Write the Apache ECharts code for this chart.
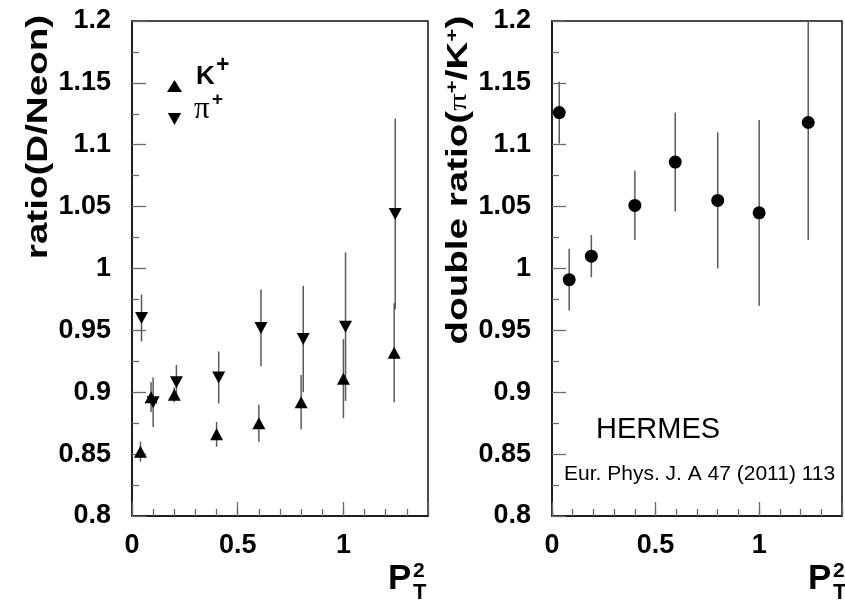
<!DOCTYPE html>
<html><head><meta charset="utf-8">
<script src="https://cdn.jsdelivr.net/npm/echarts@6/dist/echarts.min.js"></script>
<style>html,body{margin:0;padding:0;background:#fff}#c{width:845px;height:603px}</style>
</head><body><div id="c"></div>
<script>
// ---- data ----
const kaonX   = [0.04, 0.09, 0.20, 0.40, 0.60, 0.80, 1.00, 1.24];
const kaonY   = [0.852, 0.896, 0.898, 0.866, 0.875, 0.892, 0.911, 0.932];
const kaonErr = [0.008, 0.012, 0.006, 0.010, 0.015, 0.022, 0.032, 0.040];

const pionX   = [0.045, 0.10, 0.21, 0.41, 0.61, 0.81, 1.01, 1.245];
const pionY   = [0.960, 0.892, 0.908, 0.912, 0.952, 0.943, 0.953, 1.044];
const pionErr = [0.019, 0.020, 0.014, 0.021, 0.031, 0.043, 0.060, 0.077];

const dblX    = [0.035, 0.083, 0.19, 0.40, 0.595, 0.80, 1.00, 1.237];
const dblY    = [1.126, 0.991, 1.010, 1.051, 1.086, 1.055, 1.045, 1.118];
const dblErr  = [0.025, 0.025, 0.017, 0.028, 0.040, 0.055, 0.075, 0.095];

const xMin = 0, xMax = 1.4, xMajor = 0.5, xMinor = 0.1;
const yMin = 0.8, yMax = 1.2, yMajor = 0.05;

// ---- styling helpers ----
const SANS = 'Liberation Sans, Arial, Helvetica, sans-serif';
const SERIF = 'Liberation Serif, Times New Roman, serif';
const tickColor = '#6a6a6a';

function xMajorAxis(g){
  return {type:'value', gridIndex:g, position:'bottom', min:xMin, max:xMax, interval:xMajor,
    axisLine:{show:true, onZero:false, lineStyle:{color:'#111', width:1.5}},
    axisTick:{show:true, inside:true, length:14, lineStyle:{color:tickColor, width:1.3}},
    splitLine:{show:false},
    axisLabel:{fontFamily:SANS, fontWeight:'bold', fontSize:27, color:'#000', margin:16,
      formatter:v => (Math.abs(v/xMajor - Math.round(v/xMajor))<1e-6) ? String(+v.toFixed(2)) : ''}
  };
}
function xMinorAxis(g){
  return {type:'value', gridIndex:g, position:'bottom', min:xMin, max:xMax, interval:xMinor,
    axisLine:{show:false}, axisLabel:{show:false}, splitLine:{show:false},
    axisTick:{show:true, inside:true, length:7, lineStyle:{color:tickColor, width:1.3}}
  };
}
function yAxisCfg(g){
  return {type:'value', gridIndex:g, min:yMin, max:yMax, interval:yMajor,
    axisLine:{show:true, onZero:false, lineStyle:{color:'#111', width:1.5}},
    axisTick:{show:true, inside:true, length:14, lineStyle:{color:tickColor, width:1.3}},
    minorTick:{show:true, splitNumber:2, length:7, lineStyle:{color:tickColor, width:1.3}},
    splitLine:{show:false}, minorSplitLine:{show:false},
    axisLabel:{fontFamily:SANS, fontWeight:'bold', fontSize:27, color:'#000', margin:21}
  };
}
function errSeries(name, xs, ys, es, xi, yi){
  return {type:'custom', name:name+'_err', xAxisIndex:xi, yAxisIndex:yi, clip:true, silent:true, z:1,
    data: xs.map((x,i)=>[x, ys[i]-es[i], ys[i]+es[i]]),
    renderItem:(params, api)=>{
      const a = api.coord([api.value(0), api.value(1)]);
      const b = api.coord([api.value(0), api.value(2)]);
      return {type:'line', shape:{x1:a[0], y1:a[1], x2:b[0], y2:b[1]},
        style:{stroke:'#5a5a5a', lineWidth:1.5}};
    }
  };
}
function pts(xs, ys){ return xs.map((x,i)=>[x, ys[i]]); }

const option = {
  backgroundColor:'#fff',
  animation:false,
  grid:[
    {left:132, top:21, width:296, height:495, show:true, borderColor:'#111', borderWidth:1.5, containLabel:false},
    {left:552, top:21, width:296, height:495, show:true, borderColor:'#111', borderWidth:1.5, containLabel:false}
  ],
  xAxis:[xMajorAxis(0), xMinorAxis(0), xMajorAxis(1), xMinorAxis(1)],
  yAxis:[yAxisCfg(0), yAxisCfg(1)],
  legend:{
    left:162, top:75, orient:'vertical', itemWidth:15, itemHeight:12, itemGap:21,
    selectedMode:false,
    data:[{name:'K+', icon:'triangle', itemStyle:{color:'#000', opacity:1}},
          {name:'π+', icon:'path://M0,0L10,0L5,9Z', itemStyle:{color:'#000', opacity:1}}],
    formatter: () => ' ',
    textStyle:{fontSize:12, lineHeight:12, color:'#000'}
  },
  series:[
    errSeries('K+', kaonX, kaonY, kaonErr, 0, 0),
    errSeries('π+', pionX, pionY, pionErr, 0, 0),
    {type:'scatter', name:'K+', xAxisIndex:0, yAxisIndex:0, symbol:'triangle', symbolSize:[13,12],
      itemStyle:{color:'#000', opacity:1}, data:pts(kaonX, kaonY), z:3},
    {type:'scatter', name:'π+', xAxisIndex:0, yAxisIndex:0, symbol:'triangle', symbolRotate:180, symbolSize:[13,12],
      itemStyle:{color:'#000', opacity:1}, data:pts(pionX, pionY), z:3},
    errSeries('dbl', dblX, dblY, dblErr, 2, 1),
    {type:'scatter', name:'double', xAxisIndex:2, yAxisIndex:1, symbol:'circle', symbolSize:13,
      itemStyle:{color:'#000', opacity:1}, data:pts(dblX, dblY), z:3}
  ],
  graphic:[
    // legend labels
    {type:'text', x:196, y:77, style:{text:'K', font:'bold 26px '+SANS, fill:'#000', align:'left', verticalAlign:'middle'}},
    {type:'text', x:216, y:66, style:{text:'+', font:'bold 23px '+SANS, fill:'#000', align:'left', verticalAlign:'middle'}},
    {type:'text', x:194, y:110, style:{text:'π', font:'31px '+SERIF, fill:'#000', align:'left', verticalAlign:'middle'}},
    {type:'text', x:212, y:100, style:{text:'+', font:'bold 19px '+SANS, fill:'#000', align:'left', verticalAlign:'middle'}},
    // axis titles
    {type:'text', x:39, y:137, rotation:Math.PI/2, scaleX:1.33, z:10,
      style:{text:'ratio(D/Neon)', font:'bold 29px '+SANS, fill:'#000', align:'center', verticalAlign:'middle'}},
    {type:'text', x:459, y:180, rotation:Math.PI/2, scaleX:1.33, z:10,
      style:{text:'{b|double ratio(}{p|π}{s|+}{b|/K}{s|+}{b|)}', align:'center', verticalAlign:'middle',
        rich:{
          b:{font:'bold 29px '+SANS, fill:'#000', lineHeight:30},
          p:{font:'26px '+SERIF, fill:'#000', lineHeight:30},
          s:{font:'bold 17px '+SANS, fill:'#000', verticalAlign:'top', lineHeight:17}
        }}},
    {type:'text', x:388, y:579, style:{text:'P', font:'bold 35px '+SANS, fill:'#000', align:'left', verticalAlign:'middle'}},
    {type:'text', x:413, y:571, style:{text:'2', font:'bold 21px '+SANS, fill:'#000', align:'left', verticalAlign:'middle'}},
    {type:'text', x:413, y:593, style:{text:'T', font:'bold 22px '+SANS, fill:'#000', align:'left', verticalAlign:'middle'}},
    {type:'text', x:808, y:579, style:{text:'P', font:'bold 35px '+SANS, fill:'#000', align:'left', verticalAlign:'middle'}},
    {type:'text', x:833, y:571, style:{text:'2', font:'bold 21px '+SANS, fill:'#000', align:'left', verticalAlign:'middle'}},
    {type:'text', x:833, y:593, style:{text:'T', font:'bold 22px '+SANS, fill:'#000', align:'left', verticalAlign:'middle'}},
    // annotations
    {type:'text', x:596, y:430, style:{text:'HERMES', font:'29px '+SANS, fill:'#000', align:'left', verticalAlign:'middle'}},
    {type:'text', x:564, y:474, style:{text:'Eur. Phys. J. A 47 (2011) 113', font:'21px '+SANS, fill:'#000', align:'left', verticalAlign:'middle'}}
  ]
};
const chart = echarts.init(document.getElementById('c'));
chart.setOption(option);
</script>
</body></html>
